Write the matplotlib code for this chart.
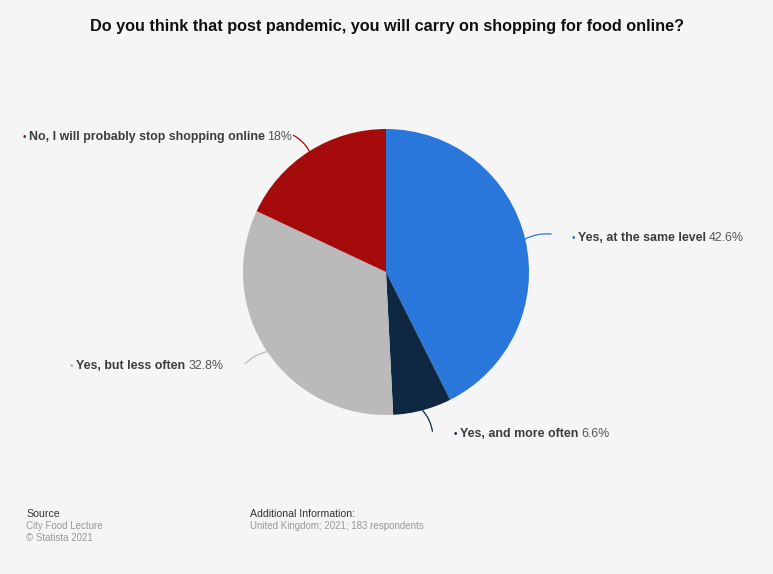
import matplotlib.pyplot as plt
import numpy as np

plt.rcParams['font.family'] = ['Liberation Sans', 'DejaVu Sans']

labels = ['Yes, at the same level', 'Yes, and more often', 'Yes, but less often', 'No, I will probably stop shopping online']
values = [42.6, 6.6, 32.8, 18.0]
value_text = ['42.6%', '6.6%', '32.8%', '18%']
colors = ['#2a77dc', '#0e2841', '#bababa', '#a50b0b']

W, H = 773, 574
fig = plt.figure(figsize=(W / 100, H / 100), dpi=100)
fig.patch.set_facecolor('#f5f5f5')

# pie axes, center (386, 272) px, radius 143 px
cx, cy, r = 386, 272, 143
half = 260
ax = fig.add_axes([(cx - half) / W, (H - cy - half) / H, 2 * half / W, 2 * half / H])
ax.set_facecolor('none')

wedges, _ = ax.pie(values, colors=colors, startangle=90, counterclock=False, radius=1,
                   wedgeprops=dict(linewidth=0))
# pie() resets the limits, so set them afterwards
ax.set_xlim(-half / r, half / r)
ax.set_ylim(-half / r, half / r)
ax.axis('off')

fig.text(0.5, 1 - 26 / H, 'Do you think that post pandemic, you will carry on shopping for food online?',
         ha='center', va='center', fontsize=11.7, fontweight='bold', color='#111111')

# px offsets: edge point -> connector end, connector end -> text anchor
line_off = [(26, -5), (10, 21), (-22, 12), (-16, -16)]
text_off = [(20, 4), (21, 3), (-22, 2), (-1, 2)]
fs = 8.9

fig.canvas.draw()
renderer = fig.canvas.get_renderer()
inv = ax.transData.inverted()

for w, lab, vt, col, lo, to in zip(wedges, labels, value_text, colors, line_off, text_off):
    ang = np.deg2rad((w.theta1 + w.theta2) / 2)
    ex, ey = np.cos(ang), np.sin(ang)
    lx, ly = ex + lo[0] / r, ey - lo[1] / r
    right = ex > 0
    ax.annotate('', xy=(ex, ey), xytext=(lx, ly),
                arrowprops=dict(arrowstyle='-', color=col, lw=0.9,
                                connectionstyle='arc3,rad=%s' % (0.15 if right else -0.15),
                                shrinkA=0, shrinkB=0))
    tx, ty = lx + to[0] / r, ly - to[1] / r
    if right:
        t0 = ax.text(tx, ty, '\u2022', color=col, fontsize=7, ha='left', va='center')
        bb = t0.get_window_extent(renderer).transformed(inv)
        t1 = ax.text(bb.x1 + 3 / r, ty, lab, color='#3c3c3c', fontsize=fs, fontweight='bold',
                     ha='left', va='center')
        bb = t1.get_window_extent(renderer).transformed(inv)
        ax.text(bb.x1 + 3 / r, ty, vt, color='#555555', fontsize=fs, ha='left', va='center')
    else:
        t2 = ax.text(tx, ty, vt, color='#555555', fontsize=fs, ha='right', va='center')
        bb = t2.get_window_extent(renderer).transformed(inv)
        t1 = ax.text(bb.x0 - 3 / r, ty, lab, color='#3c3c3c', fontsize=fs, fontweight='bold',
                     ha='right', va='center')
        bb = t1.get_window_extent(renderer).transformed(inv)
        ax.text(bb.x0 - 3 / r, ty, '\u2022', color=col, fontsize=7, ha='right', va='center')

fig.text(26 / W, 1 - 514 / H, 'Source', fontsize=7.6, color='#333333', va='center')
fig.text(26 / W, 1 - 526 / H, 'City Food Lecture', fontsize=7, color='#999999', va='center')
fig.text(26 / W, 1 - 538 / H, '\u00a9 Statista 2021', fontsize=7, color='#999999', va='center')
fig.text(250 / W, 1 - 514 / H, 'Additional Information:', fontsize=7.6, color='#333333', va='center')
fig.text(250 / W, 1 - 526 / H, 'United Kingdom; 2021; 183 respondents', fontsize=7, color='#999999', va='center')

fig.savefig('out.png', dpi=100, facecolor=fig.get_facecolor())
